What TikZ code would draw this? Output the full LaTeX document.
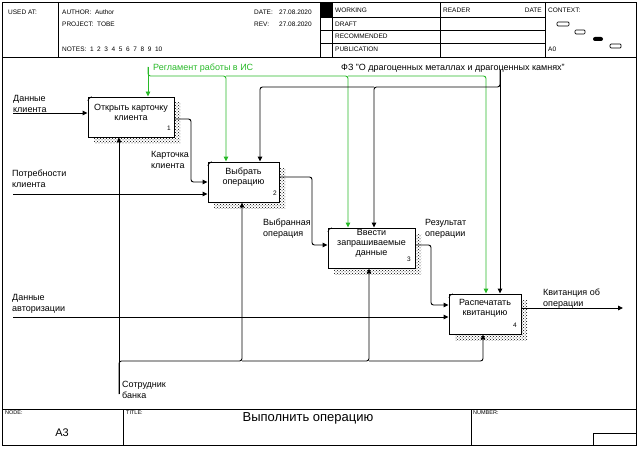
\documentclass[tikz,border=0pt]{standalone}
\usepackage{fontspec}
\setmainfont{Liberation Sans}
\usetikzlibrary{arrows.meta,patterns,shadows}
\definecolor{ctlgreen}{RGB}{40,185,40}
\begin{document}
\begin{tikzpicture}[x=1pt,y=-1pt,
  arr/.style={-{Triangle[length=5pt,width=4.5pt]},line width=0.9pt,rounded corners=2.5pt},
  ctl/.style={arr,draw=ctlgreen,-{Triangle[length=5pt,width=4.5pt,fill=ctlgreen]}},
  fbox/.style={draw,fill=white,line width=0.9pt,minimum height=40pt,inner sep=0pt,
    general shadow={shadow xshift=6pt,shadow yshift=-6pt,pattern=crosshatch dots,pattern color=black}},
  lbl/.style={font=\fontsize{9}{11}\selectfont,align=left,anchor=west,inner sep=0pt},
  btxt/.style={font=\fontsize{9}{10}\selectfont,align=center,inner sep=0pt},
  bnum/.style={font=\fontsize{6.5}{7}\selectfont,inner sep=0pt},
  hd/.style={font=\fontsize{6.5}{8}\selectfont,anchor=west,inner sep=0pt},
  ft/.style={font=\fontsize{5.5}{6}\selectfont,anchor=west,inner sep=0pt},
  frm/.style={line width=0.9pt}]
\useasboundingbox (0,0) rectangle (643,452);
\draw[frm] (2,2) rectangle (636,445);
\draw[frm] (2,57) -- (636,57);
\draw[frm] (2,409) -- (636,409);
\draw[frm] (58,2) -- (58,57);
\draw[frm] (320,2) -- (320,57);
\draw[frm] (332,2) -- (332,57);
\draw[frm] (440,2) -- (440,57);
\draw[frm] (545,2) -- (545,57);
\draw[frm] (320,17) -- (545,17);
\draw[frm] (320,30) -- (545,30);
\draw[frm] (320,43) -- (545,43);
\fill (320,2) rectangle (332,17);
\draw[frm] (123,409) -- (123,445);
\draw[frm] (471,409) -- (471,445);
\draw[frm] (593,433) rectangle (636,445);
\draw[line width=0.7pt,rounded corners=1pt] (557,22) rectangle (569,26);
\draw[line width=0.7pt,rounded corners=1pt] (575,30) rectangle (585,34);
\fill[rounded corners=2pt] (593,37) rectangle (603,41);
\draw[line width=0.7pt,rounded corners=1pt] (610,44) rectangle (621,48);
\node[hd] (usedat) at (8,12) {USED AT:};
\node[hd] (author) at (62,12) {AUTHOR:\ \ Author};
\node[hd] (project) at (62,24) {PROJECT:\ \ TOBE};
\node[hd] (notes) at (62,49) {NOTES:\ \ 1\ \ 2\ \ 3\ \ 4\ \ 5\ \ 6\ \ 7\ \ 8\ \ 9\ \ 10};
\node[hd] (date) at (254,12) {DATE:};
\node[hd] (dateval) at (279,12) {27.08.2020};
\node[hd] (rev) at (254,24) {REV:};
\node[hd] (revval) at (279,24) {27.08.2020};
\node[hd] (working) at (335,10) {WORKING};
\node[hd] (draft) at (335,24) {DRAFT};
\node[hd] (recom) at (335,36) {RECOMMENDED};
\node[hd] (publ) at (335,49) {PUBLICATION};
\node[hd] (reader) at (443,10) {READER};
\node[hd,anchor=east] (rdate) at (542,10) {DATE};
\node[hd] (context) at (548,10) {CONTEXT:};
\node[hd] (ctxnode) at (548,49) {A0};
\node[ft] (nodelbl) at (5,413) {NODE:};
\node[ft] (titlelbl) at (126,413) {TITLE:};
\node[ft] (numlbl) at (473,413) {NUMBER:};
\node[font=\fontsize{11}{12}\selectfont] (nodeval) at (62,433) {A3};
\node[font=\fontsize{13}{14}\selectfont] (title) at (308,418) {Выполнить операцию};
\node[fbox,minimum width=86pt] (b1) at (131,117) {};
\node[fbox,minimum width=71pt] (b2) at (243.5,182) {};
\node[fbox,minimum width=87pt] (b3) at (371.5,248) {};
\node[fbox,minimum width=72pt] (b4) at (485,314) {};
\draw[line width=0.5pt] (b1.north west) ++(0,4) -- ++(4,-4);
\draw[line width=0.5pt] (b2.north west) ++(0,4) -- ++(4,-4);
\draw[line width=0.5pt] (b3.north west) ++(0,4) -- ++(4,-4);
\draw[line width=0.5pt] (b4.north west) ++(0,4) -- ++(4,-4);
\node[btxt] (t1) at (131,112) {Открыть карточку\\клиента};
\node[btxt] (t2) at (243.5,177) {Выбрать\\операцию};
\node[btxt] (t3) at (371.5,243) {Ввести\\запрашиваемые\\данные};
\node[btxt] (t4) at (485,308.5) {Распечатать\\квитанцию};
\node[bnum] (n1) at (169,128) {1};
\node[bnum] (n2) at (275,193) {2};
\node[bnum] (n3) at (409,259) {3};
\node[bnum] (n4) at (515,325) {4};
\coordinate (i1) at (13,113);
\coordinate (i2) at (13,194);
\coordinate (i4) at (13,317);
\draw[arr] (i1) -- (i1 -| b1.west);
\draw[arr] (i2) -- (i2 -| b2.west);
\draw[arr] (i4) -- (i4 -| b4.west);
\coordinate (k1a) at (191,119);
\coordinate (k1b) at (191,182);
\draw[arr] (k1a -| b1.east) -- (k1a) -- (k1b) -- (k1b -| b2.west);
\coordinate (k2a) at (312,177);
\coordinate (k2b) at (312,245);
\draw[arr] (k2a -| b2.east) -- (k2a) -- (k2b) -- (k2b -| b3.west);
\coordinate (k3a) at (431,245);
\coordinate (k3b) at (431,305);
\draw[arr] (k3a -| b3.east) -- (k3a) -- (k3b) -- (k3b -| b4.west);
\coordinate (o4) at (623,308);
\draw[arr] (o4 -| b4.east) -- (o4);
\coordinate (g0) at (148,67);
\coordinate (g1) at (148,76);
\coordinate (g2) at (226,76);
\coordinate (g3) at (348,76);
\coordinate (g4) at (486,76);
\draw[ctl] (g0) -- (g0 |- b1.north);
\draw[ctl] (g0) -- (g1) -- (g2) -- (g2 |- b2.north);
\draw[ctl] (g2) -- (g3) -- (g3 |- b3.north);
\draw[ctl] (g3) -- (g4) -- (g4 |- b4.north);
\coordinate (f0) at (500,70);
\coordinate (f1) at (500,87);
\coordinate (f2) at (374,87);
\coordinate (f3) at (260,87);
\draw[arr] (f0) -- (f0 |- b4.north);
\draw[arr] (f0) -- (f1) -- (f2) -- (f2 |- b3.north);
\draw[arr] (f2) -- (f3) -- (f3 |- b2.north);
\coordinate (m0) at (119,394);
\coordinate (m1) at (119,361);
\coordinate (m2) at (242,361);
\coordinate (m3) at (369,361);
\coordinate (m4) at (483,361);
\draw[arr] (m0) -- (m0 |- b1.south);
\draw[arr] (m0) -- (m1) -- (m2) -- (m2 |- b2.south);
\draw[arr] (m2) -- (m3) -- (m3 |- b3.south);
\draw[arr] (m3) -- (m4) -- (m4 |- b4.south);
\node[lbl] (l1) at (13,103.5) {Данные\\клиента};
\node[lbl] (l2) at (12,178.5) {Потребности\\клиента};
\node[lbl] (l4) at (12,304) {Данные\\авторизации};
\node[lbl] (lk1) at (151,159.5) {Карточка\\клиента};
\node[lbl] (lk2) at (263,229) {Выбранная\\операция};
\node[lbl] (lk3) at (425,228.5) {Результат\\операции};
\node[lbl] (lo4) at (543,298.5) {Квитанция об\\операции};
\node[lbl,text=ctlgreen] (lg) at (153,68) {Регламент работы в ИС};
\node[lbl] (lf) at (341,68) {ФЗ "О драгоценных металлах и драгоценных камнях"};
\node[lbl] (lm) at (122,390) {Сотрудник\\банка};
\end{tikzpicture}
\end{document}
